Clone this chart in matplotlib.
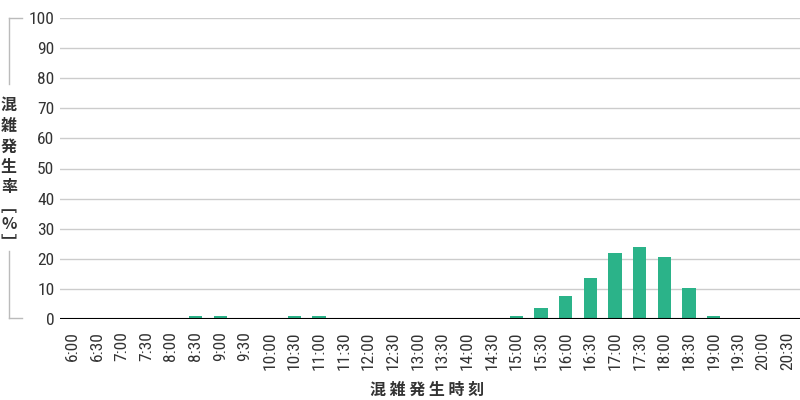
import matplotlib
matplotlib.use("Agg")
import matplotlib.pyplot as plt
from matplotlib.lines import Line2D

plt.rcParams['font.family'] = ['Roboto Condensed', 'Barlow Condensed', 'Noto Sans CJK JP', 'DejaVu Sans']

times = ["6:00", "6:30", "7:00", "7:30", "8:00", "8:30", "9:00", "9:30", "10:00", "10:30",
         "11:00", "11:30", "12:00", "12:30", "13:00", "13:30", "14:00", "14:30", "15:00", "15:30",
         "16:00", "16:30", "17:00", "17:30", "18:00", "18:30", "19:00", "19:30", "20:00", "20:30"]
rate = [0, 0, 0, 0, 0, 1, 1, 0, 0, 1,
        1, 0, 0, 0, 0, 0, 0, 0, 1, 3.5,
        7.5, 13.5, 22, 24, 20.5, 10.3, 1, 0, 0, 0]
yticks = [0, 10, 20, 30, 40, 50, 60, 70, 80, 90, 100]

fig = plt.figure(figsize=(8, 4), dpi=100)
ax = fig.add_axes([0.075, 0.2025, 0.925, 0.7525])

x = list(range(len(times)))
ax.bar(x, rate, width=0.53, color="#2bb389", zorder=3)

ax.set_xlim(-0.5, len(times) - 0.5)
ax.set_ylim(0, 100)
ax.set_yticks(yticks)
ax.set_xticks(x)
ax.set_xticklabels(times, rotation=90, fontsize=12.5, color="#333333")
ax.set_yticklabels([str(v) for v in yticks], fontsize=12.5, color="#333333")
ax.grid(axis="y", color="#cccccc", linewidth=1, zorder=0)
ax.axhline(0, color="black", linewidth=1.5, zorder=4)
for s in ["top", "right", "left", "bottom"]:
    ax.spines[s].set_visible(False)
ax.tick_params(length=0)
ax.tick_params(axis="y", pad=4)
ax.tick_params(axis="x", pad=9)

# y label stacked vertically
chars = ["混", "雑", "発", "生", "率", "\ufe47", "%", "\ufe48"]
ys = [105, 126, 147, 167, 187, 207, 224, 242]
for c, yy in zip(chars, ys):
    fig.text(9 / 800, 1 - yy / 400, c, ha="center", va="center", fontsize=11.5,
             fontweight="bold", color="#333333",
             family=["Noto Sans CJK JP", "DejaVu Sans"])

# bracket lines around y label
lc = "#bbbbbb"
fig.add_artist(Line2D([9 / 800, 22 / 800], [1 - 18 / 400, 1 - 18 / 400], color=lc, lw=1))
fig.add_artist(Line2D([9 / 800, 9 / 800], [1 - 18 / 400, 1 - 84 / 400], color=lc, lw=1))
fig.add_artist(Line2D([9 / 800, 9 / 800], [1 - 251 / 400, 1 - 318 / 400], color=lc, lw=1))
fig.add_artist(Line2D([9 / 800, 22 / 800], [1 - 318 / 400, 1 - 318 / 400], color=lc, lw=1))

fig.text(427 / 800, 1 - 390 / 400, " ".join("混雑発生時刻"), ha="center", va="center",
         fontsize=11.5, fontweight="bold", color="#333333",
         family=["Noto Sans CJK JP", "DejaVu Sans"])

fig.savefig("out.png", dpi=100)
